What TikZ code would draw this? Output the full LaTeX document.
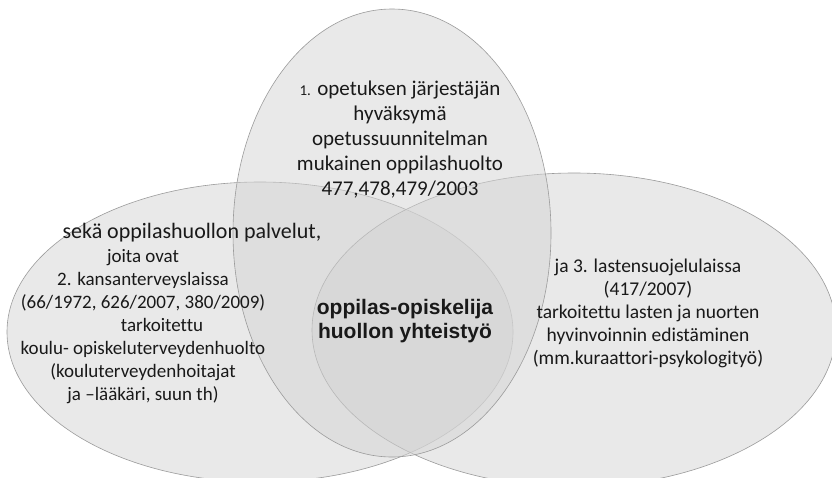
\documentclass[tikz,border=0pt]{standalone}
\usepackage{fontspec}
\setmainfont{Carlito}[Ligatures=NoCommon]
\newfontfamily\arialfont{Liberation Sans}
\usetikzlibrary{shapes.geometric}
\definecolor{vfill}{RGB}{212,212,212}
\definecolor{vline}{RGB}{155,155,155}
\definecolor{vtext}{RGB}{25,25,25}
\tikzset{
  venn/.style={ellipse, inner sep=0pt, outer sep=0pt, fill=vfill, fill opacity=0.5,
               draw=vline, draw opacity=1, line width=0.6pt},
  lbl/.style={align=center, inner sep=0pt, text=vtext, text opacity=1},
}
\begin{document}
\begin{tikzpicture}[x=1pt,y=-1pt]
\fill[white] (0,0) rectangle (832,477);
\useasboundingbox (0,0) rectangle (832,477);
% ellipses
\node[venn, minimum width=506pt, minimum height=300pt] (left) at (260,332) {};
\node[venn, minimum width=524pt, minimum height=314pt] (right) at (574,330) {};
\node[venn, minimum width=318pt, minimum height=448pt] (top) at (392,233) {};
% texts
\node[lbl, font=\fontsize{21}{25}\selectfont] (ttext) at (400,140)
  {{\fontsize{15}{25}\selectfont 1.} opetuksen järjestäjän\\ hyväksymä\\ opetussuunnitelman\\ mukainen oppilashuolto\\ 477,478,479/2003};
\node[lbl, font=\fontsize{22}{26}\selectfont] (ltitle) at (192,233) {sekä oppilashuollon palvelut,};
\node[lbl, font=\fontsize{19}{23}\selectfont] (ltext) at (143,327)
  {joita ovat\\ 2. kansanterveyslaissa\\ (66/1972, 626/2007, 380/2009)\\ \hspace*{38pt}tarkoitettu\\ koulu- opiskeluterveydenhuolto\\ (kouluterveydenhoitajat\\ ja –lääkäri, suun th)};
\node[lbl, font=\fontsize{19.5}{23}\selectfont] (rtext) at (648,313)
  {ja 3. lastensuojelulaissa\\ (417/2007)\\ tarkoitettu lasten ja nuorten\\ hyvinvoinnin edistäminen\\ (mm.kuraattori-psykologityö)};
\node[lbl, font=\arialfont\bfseries\fontsize{21}{24}\selectfont] (ctext) at (405,321)
  {oppilas-opiskelija\\ huollon yhteistyö};
\end{tikzpicture}
\end{document}
